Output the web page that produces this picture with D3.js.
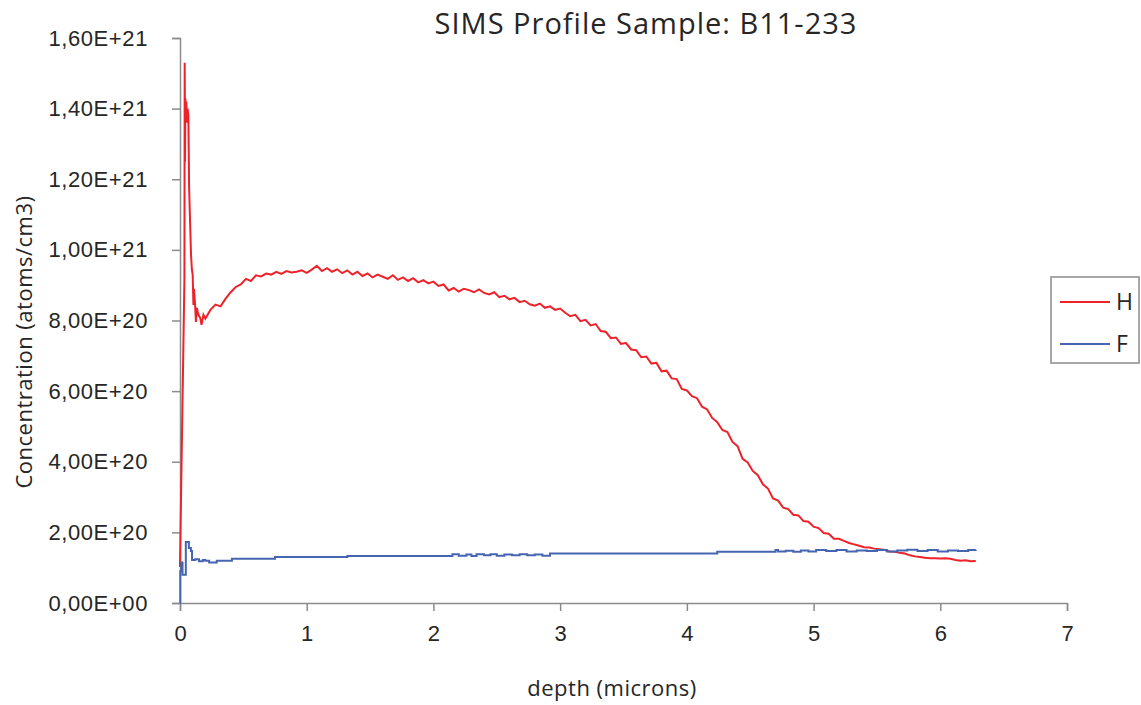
<!DOCTYPE html>
<html>
<head>
<meta charset="utf-8">
<script src="https://cdn.jsdelivr.net/npm/d3@7"></script>
<style>
  body { margin: 0; background: #fff; }
  svg { font-family: "Open Sans", "Noto Sans", sans-serif; }
  .axes-labels { fill: #262626; }
</style>
</head>
<body>
<svg id="chart"></svg>
<script>
/**
 * Chart data (concentration values in units of 1E+20 atoms/cm3)
 */
var xTicks = [0, 1, 2, 3, 4, 5, 6, 7];
var yTicks = [0, 2, 4, 6, 8, 10, 12, 14, 16];
var yTickLabels = ["0,00E+00", "2,00E+20", "4,00E+20", "6,00E+20", "8,00E+20",
                   "1,00E+21", "1,20E+21", "1,40E+21", "1,60E+21"];
var seriesNames = ["H", "F"];
var seriesColors = ["#ee2229", "#4565b0"];

var hDepth = [0.000, 0.005, 0.035, 0.037, 0.040, 0.042, 0.046, 0.050, 0.055, 0.060, 0.066,
  0.072, 0.087, 0.094, 0.100, 0.106, 0.110, 0.118, 0.126, 0.132, 0.145, 0.160, 0.170, 0.185,
  0.20, 0.24, 0.28, 0.32, 0.36, 0.40, 0.44, 0.48, 0.52, 0.56, 0.60, 0.64, 0.68, 0.72, 0.76,
  0.80, 0.84, 0.88, 0.92, 0.96, 1.00, 1.04, 1.08, 1.12, 1.16, 1.20, 1.24, 1.28, 1.32, 1.36,
  1.40, 1.44, 1.48, 1.52, 1.56, 1.60, 1.64, 1.68, 1.72, 1.76, 1.80, 1.84, 1.88, 1.92, 1.96,
  2.00, 2.04, 2.08, 2.12, 2.16, 2.20, 2.24, 2.28, 2.32, 2.36, 2.40, 2.44, 2.48, 2.52, 2.56,
  2.60, 2.64, 2.68, 2.72, 2.76, 2.80, 2.84, 2.88, 2.92, 2.96, 3.00, 3.04, 3.08, 3.12, 3.16,
  3.20, 3.24, 3.28, 3.32, 3.36, 3.40, 3.44, 3.48, 3.52, 3.56, 3.60, 3.64, 3.68, 3.72, 3.76,
  3.80, 3.84, 3.88, 3.92, 3.96, 4.00, 4.04, 4.08, 4.12, 4.16, 4.20, 4.24, 4.28, 4.32, 4.36,
  4.40, 4.44, 4.48, 4.52, 4.56, 4.60, 4.64, 4.68, 4.72, 4.76, 4.80, 4.84, 4.88, 4.92, 4.96,
  5.00, 5.04, 5.08, 5.12, 5.16, 5.20, 5.24, 5.28, 5.32, 5.36, 5.40, 5.44, 5.48, 5.52, 5.56,
  5.60, 5.64, 5.68, 5.72, 5.76, 5.80, 5.84, 5.88, 5.92, 5.96, 6.00, 6.04, 6.08, 6.12, 6.16,
  6.20, 6.24, 6.28];
var hConc = [1.02, 2.27, 9.20, 15.30, 12.50, 14.30, 13.90, 14.20, 13.60, 14.00, 13.80,
  11.75, 9.86, 9.43, 9.30, 8.44, 8.90, 8.50, 7.96, 8.36, 8.16, 8.07, 7.88, 8.16,
  8.05, 8.30, 8.45, 8.40, 8.62, 8.80, 8.95, 9.02, 9.18, 9.12, 9.28, 9.25, 9.33, 9.30, 9.38,
  9.32, 9.40, 9.36, 9.38, 9.42, 9.35, 9.44, 9.55, 9.40, 9.48, 9.38, 9.45, 9.34, 9.42, 9.30,
  9.38, 9.26, 9.33, 9.22, 9.30, 9.24, 9.18, 9.28, 9.15, 9.22, 9.12, 9.20, 9.08, 9.14, 9.05,
  9.10, 8.98, 9.02, 8.85, 8.92, 8.82, 8.90, 8.86, 8.80, 8.88, 8.78, 8.74, 8.80, 8.66, 8.70,
  8.60, 8.64, 8.52, 8.56, 8.46, 8.42, 8.48, 8.36, 8.40, 8.30, 8.34, 8.22, 8.12, 8.16, 7.98,
  8.02, 7.86, 7.90, 7.70, 7.68, 7.50, 7.52, 7.34, 7.36, 7.18, 7.16, 6.96, 6.98, 6.78, 6.80,
  6.56, 6.58, 6.36, 6.34, 6.06, 6.02, 5.86, 5.80, 5.56, 5.48, 5.24, 5.12, 4.90, 4.84, 4.56,
  4.44, 4.08, 3.98, 3.74, 3.62, 3.36, 3.24, 2.96, 2.90, 2.70, 2.66, 2.50, 2.48, 2.32, 2.30,
  2.16, 2.12, 1.98, 1.96, 1.82, 1.82, 1.76, 1.70, 1.66, 1.62, 1.58, 1.57, 1.54, 1.52, 1.50,
  1.46, 1.45, 1.42, 1.40, 1.35, 1.32, 1.30, 1.28, 1.27, 1.27, 1.26, 1.27, 1.25, 1.22, 1.20,
  1.21, 1.18, 1.19];

var fDepth = [0.000, 0.002, 0.010, 0.020, 0.046, 0.070, 0.086, 0.095, 0.12, 0.15, 0.18,
  0.20, 0.23, 0.29, 0.41, 0.75, 1.32, 2.15, 2.20, 2.26, 2.30, 2.34, 2.40, 2.45, 2.50, 2.56,
  2.62, 2.68, 2.74, 2.80, 2.86, 2.92, 4.24, 4.70, 4.72, 4.78, 4.84, 4.90, 4.96, 5.02, 5.10,
  5.18, 5.26, 5.34, 5.42, 5.50, 5.58, 5.66, 5.74, 5.82, 5.90, 5.98, 6.06, 6.14, 6.22, 6.28];
var fConc = [0.00, 0.90, 1.15, 0.80, 1.73, 1.56, 1.47, 1.22, 1.24, 1.18, 1.22,
  1.20, 1.15, 1.20, 1.25, 1.30, 1.33, 1.38, 1.34, 1.37, 1.33, 1.38, 1.35, 1.38, 1.34, 1.37,
  1.35, 1.38, 1.35, 1.37, 1.34, 1.40, 1.45, 1.50, 1.46, 1.48, 1.45, 1.49, 1.46, 1.50, 1.47,
  1.50, 1.46, 1.49, 1.47, 1.50, 1.46, 1.49, 1.51, 1.47, 1.50, 1.46, 1.49, 1.47, 1.50, 1.51];

var width = 1141, height = 705;
var plot = { left: 180, right: 1067, top: 38, bottom: 603 };

/**
 * Draws the title centered above the plot area.
 */
function drawTitle(svg, title) {
  svg.append("text")
    .attr("x", 646)
    .attr("y", 34)
    .style("text-anchor", "middle")
    .style("font-size", "29px")
    .style("letter-spacing", "1px")
    .text(title)
    .classed("axes-labels", true);
}

/**
 * Draws the x-axis and its label.
 */
function drawXAxis(svg, xScale, label) {
  var g = svg.append("g")
    .attr("transform", "translate(0," + plot.bottom + ")")
    .call(d3.axisBottom(xScale).tickValues(xTicks).tickSize(8).tickPadding(14)
      .tickFormat(d3.format("d")));
  g.selectAll("path, line").attr("stroke", "#8c8c8c").attr("stroke-width", 1.5);
  g.selectAll("text").style("font-size", "22px").attr("fill", "#262626");

  svg.append("text")
    .attr("x", 612)
    .attr("y", 696)
    .style("text-anchor", "middle")
    .style("font-size", "22px")
    .style("letter-spacing", "0.5px")
    .text(label)
    .classed("axes-labels", true);
}

/**
 * Draws the y-axis and its label.
 */
function drawYAxis(svg, yScale, label) {
  var g = svg.append("g")
    .attr("transform", "translate(" + plot.left + ",0)")
    .call(d3.axisLeft(yScale).tickValues(yTicks).tickSize(8).tickPadding(24)
      .tickFormat(function(d, i) { return yTickLabels[i]; }));
  g.selectAll("path, line").attr("stroke", "#8c8c8c").attr("stroke-width", 1.5);
  g.selectAll("text").style("font-size", "22px").style("letter-spacing", "0.6px")
    .attr("fill", "#262626");

  svg.append("text")
    .attr("transform", "translate(32,342) rotate(-90)")
    .style("text-anchor", "middle")
    .style("font-size", "22px")
    .style("letter-spacing", "0.5px")
    .text(label)
    .classed("axes-labels", true);
}

/**
 * Draws the legend box on the right.
 */
function drawLegend(svg) {
  var lg = svg.append("g");
  lg.append("rect")
    .attr("x", 1051).attr("y", 277)
    .attr("width", 88).attr("height", 86)
    .attr("fill", "#fff").attr("stroke", "#8c8c8c").attr("stroke-width", 1.5);
  seriesNames.forEach(function(name, i) {
    var y = 302 + i * 42;
    lg.append("line")
      .attr("x1", 1060).attr("x2", 1110)
      .attr("y1", y).attr("y2", y)
      .attr("stroke", seriesColors[i]).attr("stroke-width", 2);
    lg.append("text")
      .attr("x", 1116).attr("y", y + 8)
      .style("font-size", "23px")
      .text(name)
      .classed("axes-labels", true);
  });
}

var svg = d3.select("#chart").attr("width", width).attr("height", height);

var x = d3.scaleLinear().domain([0, 7]).range([plot.left, plot.right]);
var y = d3.scaleLinear().domain([0, 16]).range([plot.bottom, plot.top]);

drawYAxis(svg, y, "Concentration (atoms/cm3)");
drawXAxis(svg, x, "depth (microns)");

// H is drawn as a jagged polyline, F as plateaus with steps
var curves = [d3.curveLinear, d3.curveStepAfter];
var series = [d3.zip(hDepth, hConc), d3.zip(fDepth, fConc)];
series.forEach(function(pts, i) {
  var line = d3.line()
    .x(function(d) { return x(d[0]); })
    .y(function(d) { return y(d[1]); })
    .curve(curves[i]);
  svg.append("path")
    .datum(pts)
    .attr("fill", "none")
    .attr("stroke", seriesColors[i])
    .attr("stroke-width", 2)
    .attr("d", line);
});

drawTitle(svg, "SIMS Profile Sample: B11-233");
drawLegend(svg);
</script>
</body>
</html>
